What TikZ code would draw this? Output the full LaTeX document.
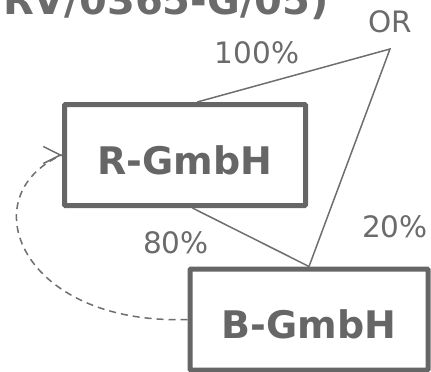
\documentclass[tikz,border=0pt]{standalone}
\usepackage{fontspec}
\setmainfont{DejaVu Sans}
\usetikzlibrary{arrows.meta}
\definecolor{boxgray}{HTML}{666666}
\definecolor{linegray}{HTML}{6E6E6E}
\definecolor{textgray}{HTML}{6B6B6B}
\tikzset{
  company/.style={draw=boxgray, line width=5pt, rounded corners=1pt,
    fill=white, text=boxgray, inner sep=0pt, text height=38pt, text depth=0pt,
    font=\fontsize{38}{40}\selectfont\bfseries},
  share/.style={inner sep=0pt, anchor=base, text=textgray,
    font=\fontsize{29.5}{31}\selectfont},
  holding/.style={draw=linegray, line width=1.5pt},
  control/.style={draw=linegray, line width=1.5pt, dash pattern=on 7pt off 5pt},
  controltip/.style={draw=linegray, line width=1.5pt,
    -{Straight Barb[length=17pt,width=17pt]}}
}
\begin{document}
\begin{tikzpicture}[x=1pt,y=-1pt]
  \useasboundingbox (0,0) rectangle (431,372);
  \begin{scope}
    \clip (0,0) rectangle (431,372);
    % case reference, cut off at the top edge
    \node[anchor=base east, inner sep=0pt, text=textgray,
      font=\fontsize{40}{42}\selectfont\bfseries] (ref) at (329,14) {RV/0365-G/05)};

    % shareholder and companies
    \coordinate (owner) at (390,49);
    \node[share] (ortext) at (390.5,32) {OR};
    \node[company, minimum width=241pt, minimum height=101pt] (R) at (185,155) {R-GmbH};
    \node[company, minimum width=238pt, minimum height=101pt] (B) at (309,319.5) {B-GmbH};

    % holdings
    \draw[holding] (R.77) -- (owner) -- (B.north);
    \draw[holding] (R.-82) -- (B.north);

    \node[share] (p100) at (257,63) {100\%};
    \node[share] (p80) at (176,253) {80\%};
    \node[share] (p20) at (395,237) {20\%};

    % control relation from B-GmbH back to R-GmbH
    \draw[control] (B.west) .. controls (20,325) and (-30,195) .. (R.west);
    \draw[controltip] ([xshift=-1pt]R.west) -- (R.west);
  \end{scope}
\end{tikzpicture}
\end{document}
